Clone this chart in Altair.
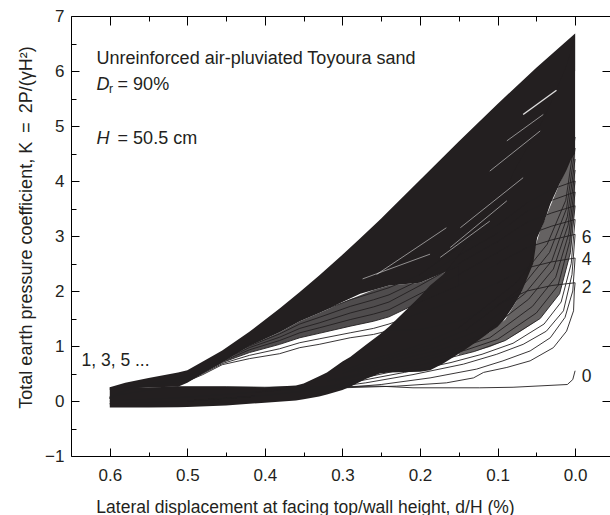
import altair as alt
import pandas as pd

INK = "#231f20"
FONT = "Liberation Sans"

# ---------------- tick values ----------------
x_major = [0.6, 0.5, 0.4, 0.3, 0.2, 0.1, 0.0]
x_minor = [0.55, 0.45, 0.35, 0.25, 0.15, 0.05]
y_major = [-1, 0, 1, 2, 3, 4, 5, 6, 7]
y_minor = [-0.5, 0.5, 1.5, 2.5, 3.5, 4.5, 5.5, 6.5]

# ---------------- dense band of odd cycles (1, 3, 5 ...) ----------------
bandA_d = [0.6, 0.58, 0.55, 0.512, 0.5, 0.48, 0.455, 0.42, 0.381, 0.355, 0.33, 0.3,
           0.277, 0.25, 0.24, 0.2, 0.15, 0.1, 0.05, 0.0]
bandA_top = [0.25, 0.33, 0.42, 0.52, 0.56, 0.72, 0.92, 1.26, 1.68, 1.98, 2.28, 2.66,
             2.96, 3.32, 3.46, 4.02, 4.72, 5.4, 6.06, 6.68]
bandA_bottom = [0.2, 0.23, 0.25, 0.26, 0.33, 0.5, 0.7, 1.0, 1.25, 1.45, 1.6, 1.8,
                1.95, 2.06, 2.1, 2.15, 2.45, 3.0, 4.6, 6.0]

# ---------------- dense band of even cycles (0, 2, 4 ...) ----------------
bandB_d = [0.6, 0.55, 0.512, 0.5, 0.45, 0.4, 0.36, 0.35, 0.33, 0.32, 0.3, 0.29, 0.27,
           0.252, 0.24, 0.2, 0.187, 0.17, 0.15, 0.14, 0.123, 0.11, 0.1, 0.093, 0.088,
           0.08, 0.07, 0.054, 0.049, 0.04, 0.032, 0.02, 0.011, 0.005, 0.0]
bandB_top = [0.25, 0.25, 0.26, 0.26, 0.26, 0.25, 0.28, 0.32, 0.45, 0.52, 0.72, 0.8, 1.02,
             1.21, 1.35, 1.9, 2.1, 2.3, 2.65, 2.85, 3.18, 3.4, 3.6, 3.75, 3.85,
             4.15, 4.4, 4.8, 4.92, 5.15, 5.4, 5.8, 6.1, 6.38, 6.68]
bandB_bottom = [-0.12, -0.12, -0.115, -0.11, -0.08, -0.03, 0.01, 0.03, 0.08, 0.12, 0.2, 0.26,
                0.4, 0.5, 0.52, 0.53, 0.56, 0.68, 0.86, 0.95, 1.12, 1.25, 1.35, 1.45, 1.55,
                1.72, 1.95, 2.5, 2.97, 3.25, 3.58, 3.95, 4.2, 4.4, 4.5]

# ---------------- tightly packed curves (lines with thin gaps) ----------------
packA_d = [0.455, 0.42, 0.381, 0.355, 0.33, 0.29, 0.26, 0.24, 0.2, 0.15]
packA_lo = [0.7, 0.88, 1.03, 1.15, 1.23, 1.36, 1.45, 1.53, 1.8, 2.1]
packA_hi = [0.7, 1.0, 1.25, 1.45, 1.6, 1.85, 2.02, 2.1, 2.15, 2.45]

packB_d = [0.0, 0.006, 0.02, 0.045, 0.07, 0.09, 0.11, 0.13, 0.15]
packB_lo = [3.55, 2.7, 1.95, 1.5, 1.27, 1.1, 0.98, 0.9, 0.83]
packB_hi = [4.5, 4.42, 3.95, 3.1, 1.95, 1.48, 1.25, 1.08, 0.86]

# ---------------- separate odd-cycle curves (lower fringe of the upper fan) ----------------
odd_d = [0.6, 0.57, 0.53, 0.5, 0.48, 0.455, 0.42, 0.381, 0.355, 0.33, 0.29, 0.26, 0.24,
         0.2, 0.15, 0.1, 0.062, 0.03, 0.0]
odd_1 = [0.05, 0.24, 0.3, 0.36, 0.48, 0.66, 0.77, 0.86, 0.97, 1.03, 1.15, 1.21, 1.28, 1.3, 1.45, 1.75, 2.0, 2.1, 2.15]
odd_3 = [0.05, 0.24, 0.31, 0.38, 0.5, 0.68, 0.83, 0.95, 1.06, 1.13, 1.24, 1.32, 1.4, 1.6, 1.85, 2.15, 2.42, 2.53, 2.6]
odd_5 = [0.05, 0.25, 0.32, 0.4, 0.52, 0.7, 0.88, 1.03, 1.15, 1.23, 1.36, 1.45, 1.53, 1.8, 2.1, 2.5, 2.79, 2.93, 3.03]
odd_7 = [0.06, 0.25, 0.33, 0.41, 0.54, 0.72, 0.93, 1.1, 1.24, 1.33, 1.48, 1.58, 1.66, 1.95, 2.3, 2.7, 3.02, 3.18, 3.3]
odd_9 = [0.06, 0.25, 0.34, 0.42, 0.56, 0.74, 0.97, 1.16, 1.32, 1.42, 1.6, 1.71, 1.8, 2.1, 2.5, 2.9, 3.25, 3.42, 3.55]
odd_11 = [0.07, 0.26, 0.35, 0.44, 0.58, 0.76, 1.0, 1.22, 1.4, 1.52, 1.72, 1.84, 1.93, 2.2, 2.65, 3.05, 3.45, 3.65, 3.8]
odd_13 = [0.07, 0.26, 0.36, 0.46, 0.6, 0.78, 1.04, 1.28, 1.48, 1.62, 1.84, 1.97, 2.06, 2.3, 2.8, 3.2, 3.6, 3.85, 4.0]

# ---------------- separate even-cycle curves (right fan) ----------------
even_0_d = [0.0, 0.003, 0.01, 0.08, 0.123, 0.209, 0.252, 0.33, 0.4, 0.45, 0.512, 0.55, 0.6]
even_0_K = [0.55, 0.39, 0.3, 0.25, 0.24, 0.24, 0.27, 0.26, 0.25, 0.26, 0.26, 0.2, 0.08]
even_2_d = [0.0, 0.001, 0.002, 0.011, 0.028, 0.058, 0.088, 0.118, 0.131, 0.166, 0.23, 0.3, 0.38, 0.45, 0.52, 0.6]
even_2_K = [2.15, 2.0, 1.64, 1.27, 0.97, 0.73, 0.61, 0.52, 0.42, 0.33, 0.27, 0.24, 0.2, 0.12, 0.05, 0.0]
even_4_d = [0.0, 0.003, 0.013, 0.032, 0.058, 0.093, 0.127, 0.187, 0.25, 0.32, 0.4, 0.5, 0.6]
even_4_K = [2.6, 2.0, 1.52, 1.15, 0.91, 0.73, 0.58, 0.42, 0.3, 0.22, 0.1, 0.0, -0.05]
even_6_d = [0.0, 0.004, 0.015, 0.037, 0.067, 0.101, 0.144, 0.209, 0.27, 0.33, 0.4, 0.5, 0.6]
even_6_K = [3.03, 2.3, 1.64, 1.27, 1.03, 0.85, 0.67, 0.48, 0.33, 0.22, 0.1, 0.0, -0.05]
even_8_d = [0.0, 0.005, 0.018, 0.04, 0.08, 0.12, 0.16, 0.22, 0.28, 0.34]
even_8_K = [3.3, 2.5, 1.8, 1.4, 1.05, 0.85, 0.7, 0.52, 0.36, 0.22]
even_10_d = [0.0, 0.006, 0.02, 0.045, 0.09, 0.13, 0.18, 0.24, 0.3]
even_10_K = [3.55, 2.7, 1.95, 1.5, 1.1, 0.9, 0.72, 0.52, 0.34]
even_12_d = [0.0, 0.007, 0.022, 0.05, 0.1, 0.14, 0.19, 0.25, 0.31]
even_12_K = [3.8, 2.9, 2.1, 1.6, 1.12, 0.93, 0.76, 0.55, 0.36]
even_14_d = [0.0, 0.008, 0.025, 0.055, 0.11, 0.16, 0.21, 0.27, 0.32]
even_14_K = [4.0, 3.05, 2.25, 1.72, 1.15, 0.92, 0.74, 0.52, 0.36]
even_16_d = [0.0, 0.009, 0.028, 0.06, 0.12, 0.17, 0.22, 0.28]
even_16_K = [4.2, 3.2, 2.4, 1.85, 1.2, 0.95, 0.78, 0.53]
even_18_d = [0.0, 0.01, 0.03, 0.065, 0.13, 0.18, 0.23, 0.29]
even_18_K = [4.4, 3.35, 2.55, 1.95, 1.25, 0.98, 0.8, 0.52]
even_20_d = [0.0, 0.011, 0.033, 0.07, 0.14, 0.19, 0.24, 0.3]
even_20_K = [4.6, 3.5, 2.7, 2.05, 1.3, 1.0, 0.8, 0.5]
even_22_d = [0.0, 0.012, 0.036, 0.076, 0.15, 0.2, 0.25, 0.3]
even_22_K = [4.8, 3.65, 2.85, 2.15, 1.33, 1.02, 0.8, 0.55]

# ---------------- light gaps between curves inside the dense bands ----------------
gap_d = [[0.024, 0.067], [0.041, 0.088], [0.045, 0.11], [0.067, 0.148],
         [0.088, 0.161], [0.11, 0.174], [0.166, 0.256], [0.187, 0.274]]
gap_K = [[5.65, 5.21], [5.21, 4.73], [4.91, 4.18], [4.06, 3.15],
         [3.64, 2.79], [3.27, 2.61], [3.15, 2.3], [2.67, 2.22]]

# ---------------- build tables ----------------
bandA = pd.DataFrame({"d": bandA_d, "lo": bandA_bottom, "hi": bandA_top})
bandB = pd.DataFrame({"d": bandB_d, "lo": bandB_bottom, "hi": bandB_top})
packA = pd.DataFrame({"d": packA_d, "lo": packA_lo, "hi": packA_hi})
packB = pd.DataFrame({"d": packB_d, "lo": packB_lo, "hi": packB_hi})

rows = []
for name, ks in [("o1", odd_1), ("o3", odd_3), ("o5", odd_5), ("o7", odd_7),
                 ("o9", odd_9), ("o11", odd_11), ("o13", odd_13)]:
    for i, (d, k) in enumerate(zip(odd_d, ks)):
        rows.append({"curve": name, "i": i, "d": d, "K": k})
odd_df = pd.DataFrame(rows)

rows = []
for name, ds, ks in [("e0", even_0_d, even_0_K), ("e2", even_2_d, even_2_K),
                     ("e4", even_4_d, even_4_K), ("e6", even_6_d, even_6_K),
                     ("e8", even_8_d, even_8_K), ("e10", even_10_d, even_10_K),
                     ("e12", even_12_d, even_12_K), ("e14", even_14_d, even_14_K),
                     ("e16", even_16_d, even_16_K), ("e18", even_18_d, even_18_K),
                     ("e20", even_20_d, even_20_K), ("e22", even_22_d, even_22_K)]:
    for i, (d, k) in enumerate(zip(ds, ks)):
        rows.append({"curve": name, "i": i, "d": d, "K": k})
even_df = pd.DataFrame(rows)

rows = []
for j, (ds, ks) in enumerate(zip(gap_d, gap_K)):
    for i, (d, k) in enumerate(zip(ds, ks)):
        rows.append({"curve": f"g{j}", "i": i, "d": d, "K": k, "w": 1.4 if j == 0 else 0.6})
gap_df = pd.DataFrame(rows)

# ---------------- layout ----------------
W, H = 539, 440
xs = alt.Scale(domain=[-0.045, 0.65], reverse=True, nice=False, zero=False)
ys = alt.Scale(domain=[-1, 7], nice=False, zero=False)
LBL = 17
TTL = 17.5
ANN = 18


def tick_axis(orient, values, size, domain=False):
    off = -(W if orient in ("left", "right") else H)
    return alt.Axis(orient=orient, offset=off, values=values, labels=False, ticks=True,
                    tickSize=size, tickColor="black", tickWidth=1, domain=domain,
                    domainColor="black", domainWidth=1, grid=False, title=None)


x_main = alt.Axis(orient="bottom", values=x_major, format=".1f", ticks=False, tickSize=0,
                  labelPadding=11, labelFont=FONT, labelFontSize=LBL, labelColor=INK,
                  domain=True, domainColor="black", domainWidth=1, grid=False,
                  title="Lateral displacement at facing top/wall height, d/H (%)",
                  titleFont=FONT, titleFontSize=TTL, titleFontWeight="normal",
                  titleColor=INK, titleX=234, titleY=51, titleAlign="center",
                  titleBaseline="middle")
y_main = alt.Axis(orient="left", values=y_major, format="d", ticks=False, tickSize=0,
                  labelPadding=7, labelFont=FONT, labelFontSize=LBL, labelColor=INK,
                  domain=True, domainColor="black", domainWidth=1, grid=False,
                  title="Total earth pressure coefficient, K\u2002=\u20022P/(γH²)",
                  titleFont=FONT, titleFontSize=18, titleFontWeight="normal",
                  titleColor=INK, titleX=-45, titleY=211, titleAngle=270,
                  titleAlign="center", titleBaseline="middle")

areaA = alt.Chart(bandA).mark_area(color=INK, opacity=1).encode(
    x=alt.X("d:Q", scale=xs, axis=x_main),
    y=alt.Y("lo:Q", scale=ys, axis=y_main),
    y2="hi:Q",
)
areaB = alt.Chart(bandB).mark_area(color=INK, opacity=1).encode(
    x=alt.X("d:Q", scale=xs, axis=tick_axis("top", x_major, 8)),
    y=alt.Y("lo:Q", scale=ys, axis=tick_axis("right", y_major, 8)),
    y2="hi:Q",
)
pack_layers = [
    alt.Chart(p).mark_area(color=INK, opacity=op).encode(
        x=alt.X("d:Q", scale=xs, axis=None),
        y=alt.Y("lo:Q", scale=ys, axis=None),
        y2="hi:Q",
    )
    for p, op in ((packA, 0.8), (packB, 0.7))
]
odd_lines = alt.Chart(odd_df).mark_line(color=INK, strokeWidth=0.9).encode(
    x=alt.X("d:Q", scale=xs, axis=tick_axis("top", x_minor, 4)),
    y=alt.Y("K:Q", scale=ys, axis=tick_axis("right", y_minor, 5)),
    detail="curve:N",
    order="i:Q",
)
even_lines = alt.Chart(even_df).mark_line(color=INK, strokeWidth=0.9).encode(
    x=alt.X("d:Q", scale=xs, axis=tick_axis("bottom", x_major, 9, domain=True)),
    y=alt.Y("K:Q", scale=ys, axis=tick_axis("left", y_major, 8)),
    detail="curve:N",
    order="i:Q",
)
gap_lines = alt.Chart(gap_df).mark_line(color="white", opacity=0.85).encode(
    x=alt.X("d:Q", scale=xs, axis=tick_axis("bottom", x_minor, 5)),
    y=alt.Y("K:Q", scale=ys, axis=None),
    detail="curve:N",
    order="i:Q",
    strokeWidth=alt.StrokeWidth("w:Q", scale=None, legend=None),
)


def label(text, d, k, dx=0, dy=0, size=ANN, style="normal"):
    df = pd.DataFrame({"d": [d], "K": [k], "t": [text]})
    return alt.Chart(df).mark_text(align="left", baseline="middle", font=FONT,
                                   fontSize=size, fontStyle=style, color=INK,
                                   dx=dx, dy=dy).encode(
        x=alt.X("d:Q", scale=xs, axis=None),
        y=alt.Y("K:Q", scale=ys, axis=None),
        text="t:N",
    )


texts = [
    label("Unreinforced air-pluviated Toyoura sand", 0.617, 6.22),
    label("D", 0.617, 5.75, style="italic"),
    label("r", 0.617, 5.75, dx=12.5, dy=4, size=12),
    label("= 90%", 0.617, 5.75, dx=21),
    label("H", 0.617, 4.76, style="italic"),
    label("= 50.5 cm", 0.617, 4.76, dx=21),
    label("1, 3, 5 ...", 0.6365, 0.73, size=TTL),
    label("6", -0.0086, 2.96, size=TTL),
    label("4", -0.0086, 2.56, size=TTL),
    label("2", -0.0086, 2.05, size=TTL),
    label("0", -0.0086, 0.44, size=TTL),
]

chart = alt.layer(areaA, areaB, *pack_layers, odd_lines, even_lines, gap_lines, *texts).resolve_axis(
    x="independent", y="independent"
).properties(
    width=W, height=H,
    autosize=alt.AutoSizeParams(type="none"),
    padding={"left": 71, "top": 16, "right": 0, "bottom": 59},
    background="white",
).configure_view(strokeOpacity=0)

chart.save("out.html", embed_options={"renderer": "svg", "actions": False})
